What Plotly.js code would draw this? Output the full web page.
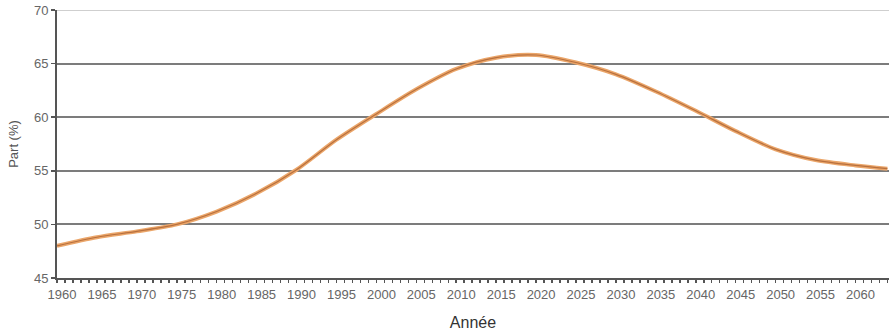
<!DOCTYPE html>
<html>
<head>
<meta charset="utf-8">
<script src="https://cdn.plot.ly/plotly-3.0.1.min.js"></script>
<style>
  html, body { margin: 0; padding: 0; background: #ffffff; }
  #chart { width: 889px; height: 333px; }
</style>
</head>
<body>
<div id="chart"></div>
<script>
// Part de la population (%) par année, observée puis projetée
const annees = [1960, 1965, 1970, 1975, 1980, 1985, 1990, 1995, 2000, 2005, 2010,
                2015, 2020, 2025, 2030, 2035, 2040, 2045, 2050, 2055, 2060, 2064];
const part   = [48.0, 48.8, 49.35, 50.0, 51.2, 52.9, 55.1, 57.9, 60.3, 62.6, 64.5,
                65.55, 65.8, 65.1, 64.0, 62.4, 60.6, 58.7, 57.0, 56.0, 55.5, 55.2];
const graduationsY = [45, 50, 55, 60, 65, 70];

const tickFont = { family: 'Liberation Sans, Arial, sans-serif', size: 13, color: '#666666' };

const traces = [
  {
    x: annees, y: part, type: 'scatter', mode: 'lines',
    line: { color: '#eba66a', width: 4, shape: 'spline', smoothing: 0.8 },
    hoverinfo: 'skip', showlegend: false
  },
  {
    x: annees, y: part, type: 'scatter', mode: 'lines',
    line: { color: '#b8703e', width: 1.2, shape: 'spline', smoothing: 0.8 },
    showlegend: false
  }
];

const layout = {
  width: 889, height: 333,
  margin: { l: 57, r: 0, t: 10, b: 55 },
  paper_bgcolor: '#ffffff', plot_bgcolor: '#ffffff',
  showlegend: false,
  xaxis: {
    range: [1960, 2064.2],
    tickmode: 'linear', tick0: 1960, dtick: 5,
    ticks: 'outside', ticklen: 3, tickwidth: 1.5, tickcolor: '#555555',
    minor: { dtick: 1, tick0: 1960, ticks: 'outside', ticklen: 3, tickwidth: 1.5, tickcolor: '#555555', showgrid: false },
    ticklabelshift: 5,
    showgrid: false, zeroline: false,
    showline: true, linecolor: '#555555', linewidth: 2,
    tickfont: tickFont,
    title: { text: 'Année', font: { family: 'Liberation Sans, Arial, sans-serif', size: 16, color: '#333333' }, standoff: 16 }
  },
  yaxis: {
    range: [45, 70],
    tickvals: graduationsY,
    ticks: 'outside', ticklen: 4, tickwidth: 1.5, tickcolor: '#555555',
    showgrid: true, gridcolor: '#7c7c7c', gridwidth: 2,
    zeroline: false,
    showline: true, linecolor: '#555555', linewidth: 2,
    tickfont: tickFont,
    title: { text: 'Part (%)', font: { family: 'Liberation Sans, Arial, sans-serif', size: 13, color: '#555555' }, standoff: 12 }
  },
  shapes: [
    { type: 'line', xref: 'paper', x0: 0, x1: 1, yref: 'y', y0: 70, y1: 70,
      line: { color: '#cfcfcf', width: 2 }, layer: 'above' }
  ]
};

Plotly.newPlot('chart', traces, layout, { displayModeBar: false, staticPlot: true });
</script>
</body>
</html>
